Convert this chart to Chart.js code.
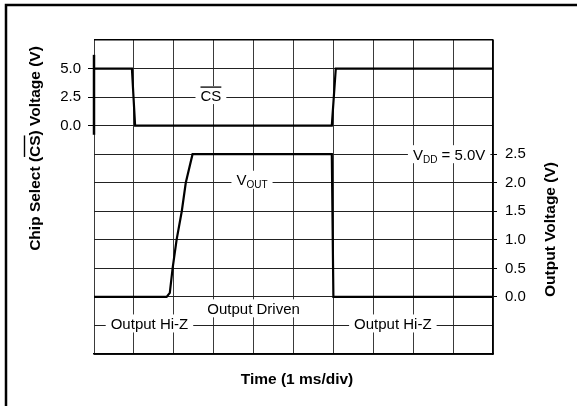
<!DOCTYPE html>
<html>
<head>
<meta charset="utf-8">
<script src="https://cdn.jsdelivr.net/npm/chart.js@4.4.1/dist/chart.umd.min.js"></script>
<style>
  html, body { margin: 0; padding: 0; background: #fff; }
  canvas { display: block; }
</style>
</head>
<body>
<canvas id="cs-chart" width="577" height="406"></canvas>
<script>
// Chip select vs. output voltage timing, 1 ms per division
const csTime  = [0, 0.6, 0.95, 1.03, 5.96, 6.06, 10];
const csVolts = [5.0, 5.0, 5.0, 0, 0, 5.0, 5.0];

const outTime  = [0, 1.82, 1.9, 1.97, 2.07, 2.2, 2.3, 2.47, 5.96, 6.0, 10];
const outVolts = [0, 0, 0.07, 0.5, 1.0, 1.5, 2.0, 2.5, 2.5, 0, 0];

const csTickLabels  = [0, 2.5, 5.0];
const outTickLabels = [0, 0.5, 1.0, 1.5, 2.0, 2.5];

const FONT = '"Liberation Sans", Arial, sans-serif';

// in-plot labels, placed in data units (time, volts on the given axis)
const notes = [
  { x: 2.93, y: 2.5,  axis: 'y',  dy: -2, overline: true, parts: [['CS', false]] },
  { x: 3.96, y: 2.0,  axis: 'y2', dy: -3, parts: [['V', false], ['OUT', true]] },
  { x: 8.9,  y: 2.5,  axis: 'y2', dy: 0,  parts: [['V', false], ['DD', true], [' = 5.0V', false]] },
  { x: 4.0,  y: -0.2, axis: 'y2', dy: 0,  parts: [['Output Driven', false]] },
  { x: 1.39, y: -0.5, axis: 'y2', dy: -2, parts: [['Output Hi-Z', false]] },
  { x: 7.49, y: -0.5, axis: 'y2', dy: -2, parts: [['Output Hi-Z', false]] }
];

function toPoints(xs, ys) {
  return xs.map((x, i) => ({ x: x, y: ys[i] }));
}

function hasLabel(list, v) {
  return list.some(l => Math.abs(l - v) < 1e-6);
}

const decorPlugin = {
  id: 'scopeDecor',
  beforeDraw(chart) {
    const ctx = chart.ctx;
    ctx.save();
    ctx.fillStyle = '#fff';
    ctx.fillRect(0, 0, chart.width, chart.height);
    // page frame (top and left edges)
    ctx.strokeStyle = '#000';
    ctx.lineWidth = 2.5;
    ctx.beginPath();
    ctx.moveTo(6, chart.height);
    ctx.lineTo(6, 5);
    ctx.lineTo(chart.width, 5);
    ctx.stroke();
    ctx.restore();
  },
  afterDatasetsDraw(chart) {
    const ctx = chart.ctx;
    const xs = chart.scales.x;
    const area = chart.chartArea;
    ctx.save();

    // heavy segment of the left axis around the CS range
    const ly = chart.scales.y;
    ctx.strokeStyle = '#000';
    ctx.lineWidth = 2.5;
    ctx.beginPath();
    ctx.moveTo(area.left, ly.getPixelForValue(6.2));
    ctx.lineTo(area.left, ly.getPixelForValue(-0.8));
    ctx.stroke();

    // labels with white backing
    notes.forEach(n => {
      const px = xs.getPixelForValue(n.x);
      const py = chart.scales[n.axis].getPixelForValue(n.y) + n.dy;
      let total = 0;
      const widths = n.parts.map(([txt, sub]) => {
        ctx.font = (sub ? '10px ' : '15px ') + FONT;
        const w = ctx.measureText(txt).width;
        total += w;
        return w;
      });
      ctx.fillStyle = '#fff';
      ctx.fillRect(px - total / 2 - 5, py - 9, total + 10, 18);
      ctx.fillStyle = '#000';
      ctx.textBaseline = 'alphabetic';
      ctx.textAlign = 'left';
      let cx = px - total / 2;
      n.parts.forEach(([txt, sub], i) => {
        ctx.font = (sub ? '10px ' : '15px ') + FONT;
        ctx.fillText(txt, cx, py + 5.5 + (sub ? 3 : 0));
        cx += widths[i];
      });
      if (n.overline) {
        ctx.strokeStyle = '#000';
        ctx.lineWidth = 1.3;
        ctx.beginPath();
        ctx.moveTo(px - total / 2, py - 8);
        ctx.lineTo(px + total / 2, py - 8);
        ctx.stroke();
      }
    });
    ctx.restore();
  },
  afterDraw(chart) {
    const ctx = chart.ctx;
    const area = chart.chartArea;
    ctx.save();
    ctx.fillStyle = '#000';
    ctx.strokeStyle = '#000';
    ctx.font = 'bold 15.5px ' + FONT;
    ctx.textBaseline = 'middle';

    // x title
    ctx.textAlign = 'center';
    ctx.fillText('Time (1 ms/div)', (area.left + area.right) / 2 + 3.5, area.bottom + 26);

    // left title, with a bar over CS
    const left = 'Chip Select (CS) Voltage (V)';
    const lw = ctx.measureText(left).width;
    ctx.save();
    ctx.translate(area.left - 58, area.top + 108.5);
    ctx.rotate(-Math.PI / 2);
    ctx.textAlign = 'left';
    ctx.fillText(left, -lw / 2, 0);
    const pre = ctx.measureText('Chip Select (').width;
    const csw = ctx.measureText('CS').width;
    ctx.lineWidth = 1.4;
    ctx.beginPath();
    ctx.moveTo(-lw / 2 + pre, -11.5);
    ctx.lineTo(-lw / 2 + pre + csw, -11.5);
    ctx.stroke();
    ctx.restore();

    // right title
    ctx.save();
    ctx.translate(area.right + 58, area.top + 189.5);
    ctx.rotate(-Math.PI / 2);
    ctx.textAlign = 'center';
    ctx.fillText('Output Voltage (V)', 0, 0);
    ctx.restore();

    ctx.restore();
  }
};

const tickFont = { family: FONT, size: 15 };

new Chart(document.getElementById('cs-chart'), {
  type: 'line',
  data: {
    datasets: [
      {
        label: 'CS',
        data: toPoints(csTime, csVolts),
        yAxisID: 'y',
        borderColor: '#000',
        borderWidth: 2.2,
        pointRadius: 0,
        tension: 0,
        fill: false
      },
      {
        label: 'VOUT',
        data: toPoints(outTime, outVolts),
        yAxisID: 'y2',
        borderColor: '#000',
        borderWidth: 2.2,
        pointRadius: 0,
        tension: 0,
        fill: false
      }
    ]
  },
  options: {
    responsive: false,
    animation: false,
    devicePixelRatio: 1,
    layout: { padding: { top: 40, left: 0, right: 0, bottom: 0 } },
    plugins: {
      legend: { display: false },
      tooltip: { enabled: false }
    },
    scales: {
      x: {
        type: 'linear',
        min: 0,
        max: 10,
        ticks: { stepSize: 1, display: false },
        grid: { color: '#3a3a3a', lineWidth: 1, drawTicks: false },
        border: { display: true, color: '#000', width: 1.5 },
        afterFit: s => { s.width = s.width; s.height = 52; }
      },
      y: {
        position: 'left',
        min: -20,
        max: 7.5,
        ticks: {
          stepSize: 2.5,
          autoSkip: false,
          padding: 7,
          color: '#000',
          font: tickFont,
          callback: v => hasLabel(csTickLabels, v) ? v.toFixed(1) : ''
        },
        grid: {
          color: c => (c.tick && c.tick.value === 7.5) ? '#000' : '#222',
          lineWidth: c => (c.tick && c.tick.value === 7.5) ? 1.5 : 1,
          tickLength: 6,
          tickColor: c => (c.tick && hasLabel(csTickLabels, c.tick.value)) ? '#000' : 'rgba(0,0,0,0)'
        },
        border: { display: false },
        afterFit: s => { s.width = 94; }
      },
      y2: {
        position: 'right',
        min: -1,
        max: 4.5,
        ticks: {
          stepSize: 0.5,
          autoSkip: false,
          padding: 8,
          color: '#000',
          font: tickFont,
          callback: v => hasLabel(outTickLabels, v) ? v.toFixed(1) : ''
        },
        grid: {
          drawOnChartArea: false,
          tickLength: 4,
          tickColor: c => (c.tick && hasLabel(outTickLabels, c.tick.value)) ? '#000' : 'rgba(0,0,0,0)'
        },
        border: { display: true, color: '#000', width: 1.5 },
        afterFit: s => { s.width = 84; }
      }
    }
  },
  plugins: [decorPlugin]
});
</script>
</body>
</html>
